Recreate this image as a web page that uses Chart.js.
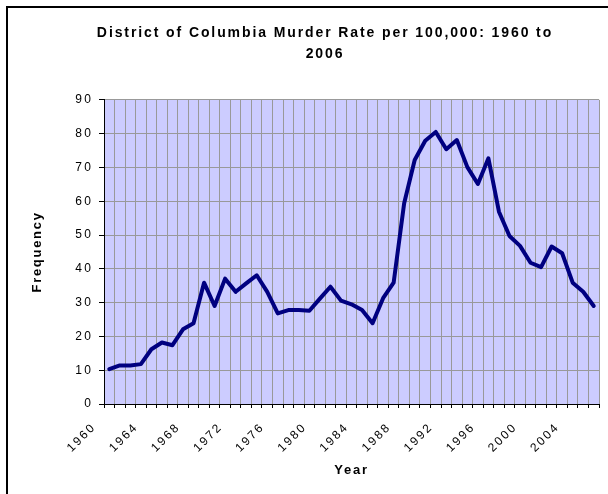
<!DOCTYPE html>
<html>
<head>
<meta charset="utf-8">
<script src="https://cdn.jsdelivr.net/npm/chart.js@4.4.1/dist/chart.umd.min.js"></script>
<style>
  html, body { margin: 0; padding: 0; background: #ffffff; overflow: hidden; }
  #box { width: 608px; height: 494px; position: relative; }
</style>
</head>
<body>
<div id="box"><canvas id="myChart"></canvas></div>
<script>
// categorias (años)
const anios = ['1960','1961','1962','1963','1964','1965','1966','1967','1968','1969',
               '1970','1971','1972','1973','1974','1975','1976','1977','1978','1979',
               '1980','1981','1982','1983','1984','1985','1986','1987','1988','1989',
               '1990','1991','1992','1993','1994','1995','1996','1997','1998','1999',
               '2000','2001','2002','2003','2004','2005','2006'];

// tasa de homicidios por 100.000
const tasa = [10.3, 11.4, 11.4, 11.8, 16.2, 18.2, 17.4, 22.1, 23.9, 35.9,
              29.0, 37.1, 33.2, 35.7, 38.1, 33.2, 26.8, 27.8, 27.8, 27.6,
              31.2, 34.7, 30.6, 29.5, 27.8, 23.9, 31.3, 35.9, 59.4, 72.2,
              77.9, 80.5, 75.4, 78.1, 70.1, 65.1, 72.7, 56.9, 49.7, 46.8,
              41.8, 40.5, 46.6, 44.6, 35.9, 33.2, 29.0];

// etiquetas que se muestran en el eje x
const etiquetasX = ['1960','1964','1968','1972','1976','1980','1984','1988','1992','1996','2000','2004'];

const tituloLineas = ['District of Columbia Murder Rate per 100,000: 1960 to', '2006'];

const fuente = '"Liberation Sans", Arial, sans-serif';

// fondo del area de trazado y marco exterior
const fondo = {
    id: 'fondo',
    beforeDraw(chart) {
        const {ctx, chartArea: a} = chart;
        ctx.save();
        ctx.fillStyle = '#ccccff';
        ctx.fillRect(a.left, a.top, a.right - a.left, a.bottom - a.top);
        ctx.strokeStyle = '#000000';
        ctx.lineWidth = 2;
        ctx.beginPath();
        ctx.moveTo(7, 494);
        ctx.lineTo(7, 7);
        ctx.lineTo(608, 7);
        ctx.stroke();
        ctx.restore();
    }
};

// el texto de excel sale mas ancho: se agrega espacio entre letras
function envolver(obj, metodo, esp) {
    if (!obj || obj['_orig_' + metodo]) return;
    const orig = obj[metodo];
    obj['_orig_' + metodo] = orig;
    obj[metodo] = function(...args) {
        const c = this.ctx;
        const antes = c.letterSpacing;
        c.letterSpacing = esp;
        orig.apply(this, args);
        c.letterSpacing = antes || '0px';
    };
}

const espaciado = {
    id: 'espaciado',
    afterLayout(chart) {
        envolver(chart.titleBlock, 'draw', '1.9px');
        envolver(chart.scales.x, 'drawLabels', '2.2px');
        envolver(chart.scales.y, 'drawLabels', '2.2px');
        envolver(chart.scales.x, 'drawTitle', '1.7px');
        envolver(chart.scales.y, 'drawTitle', '1.7px');
    }
};

function grafico() {
    const ctx = document.getElementById('myChart');

    new Chart(ctx, {
        type: 'line',
        data: {
            labels: anios,
            datasets: [{
                label: 'Murder rate',
                data: tasa,
                borderColor: '#000080',
                borderWidth: 4,
                borderJoinStyle: 'round',
                borderCapStyle: 'round',
                pointRadius: 0,
                fill: false,
                tension: 0
            }]
        },
        options: {
            responsive: true,
            maintainAspectRatio: false,
            animation: false,
            layout: { padding: { left: 51, right: 9, top: 0, bottom: 0 } },
            font: { family: fuente },
            plugins: {
                legend: { display: false },
                tooltip: { enabled: false },
                title: {
                    display: true,
                    text: tituloLineas,
                    color: '#000000',
                    font: { family: fuente, size: 14, weight: 'bold', lineHeight: 1.46 },
                    padding: { top: 23, bottom: 36 }
                }
            },
            scales: {
                x: {
                    type: 'category',
                    offset: true,
                    grid: { offset: true, color: '#999999', tickColor: '#000000', tickLength: 4, lineWidth: 1 },
                    border: { color: '#000000', width: 1 },
                    ticks: {
                        autoSkip: false,
                        maxRotation: 45,
                        minRotation: 45,
                        labelOffset: -15,
                        padding: 12,
                        color: '#000000',
                        font: { family: fuente, size: 12 },
                        callback: function(v, i) {
                            const t = anios[i];
                            return etiquetasX.includes(t) ? t : '';
                        }
                    },
                    title: {
                        display: true,
                        text: 'Year',
                        color: '#000000',
                        font: { family: fuente, size: 13, weight: 'bold' },
                        padding: { top: 0, bottom: 16 }
                    },
                    afterFit: function(s) {
                        s.height = 90;
                        s.paddingLeft = 0;
                        s.paddingRight = 0;
                    }
                },
                y: {
                    min: 0,
                    max: 90,
                    ticks: {
                        stepSize: 10,
                        padding: 6,
                        color: '#000000',
                        font: { family: fuente, size: 12 }
                    },
                    grid: { color: '#999999', tickColor: '#000000', tickLength: 5, lineWidth: 1 },
                    border: { color: '#000000', width: 1 },
                    title: {
                        display: true,
                        text: 'Frequency',
                        color: '#000000',
                        font: { family: fuente, size: 13, weight: 'bold' },
                        padding: { top: -21, bottom: 0 }
                    },
                    afterFit: function(s) {
                        s.width = 53;
                        s.paddingTop = 0;
                        s.paddingBottom = 0;
                    }
                }
            }
        },
        plugins: [fondo, espaciado]
    });
}

grafico();
</script>
</body>
</html>
